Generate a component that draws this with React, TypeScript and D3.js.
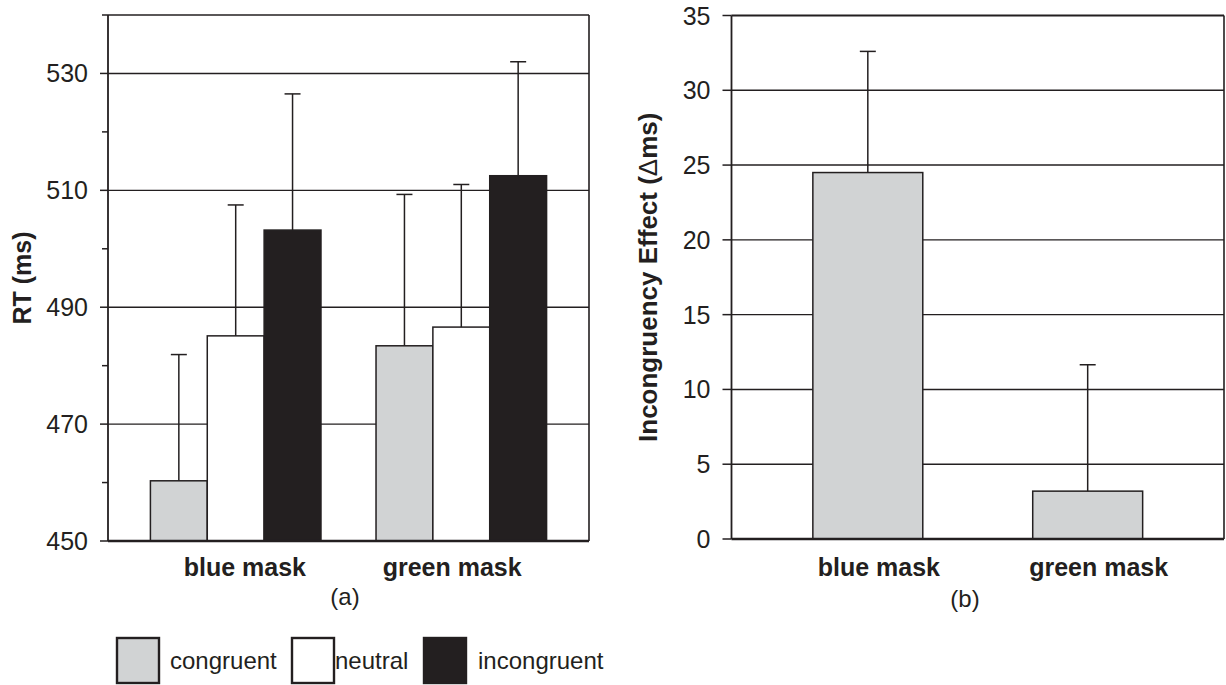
import React, { useEffect, useRef } from "react";
import * as d3 from "d3";

// ---- data ----
const groups = ["blue mask", "green mask"];
const conditions = ["congruent", "neutral", "incongruent"];
const congruentRT = [460.3, 483.4];
const neutralRT = [485.1, 486.6];
const incongruentRT = [503.2, 512.5];
const congruentErr = [21.6, 25.9];
const neutralErr = [22.4, 24.4];
const incongruentErr = [23.3, 19.5];
const rtTicks = [450, 470, 490, 510, 530];
const rtMinorTicks = [460, 480, 500, 520, 540];

const effect = [24.5, 3.2];
const effectErr = [8.1, 8.45];
const effectTicks = [0, 5, 10, 15, 20, 25, 30, 35];

const INK = "#231f20";
const GRAY = "#d1d3d4";
const FONT = "'Liberation Sans', Arial, Helvetica, sans-serif";

const App = () => {
  const svgRef = useRef<SVGSVGElement>(null);

  useEffect(() => {
    const svg = d3.select(svgRef.current);
    svg.selectAll("*").remove();

    const fill = d3.scaleOrdinal<string>().domain(conditions).range([GRAY, "#ffffff", INK]);

    // ================= panel (a) =================
    const a = { left: 108, right: 589, top: 15, bottom: 541 };
    const yA = d3.scaleLinear().domain([450, 540]).range([a.bottom, a.top]);
    const x0 = d3
      .scaleBand()
      .domain(groups)
      .range([a.left, a.right])
      .paddingInner(0.244)
      .paddingOuter(0.188);
    const x1 = d3.scaleBand().domain(conditions).range([0, x0.bandwidth()]);
    const labelA = d3.scalePoint().domain(groups).range([a.left, a.right]).padding(0.66);

    const gA = svg.append("g");

    // gridlines + top border
    gA.selectAll(".grid")
      .data([...rtTicks.slice(1), 540])
      .enter()
      .append("line")
      .attr("x1", a.left)
      .attr("x2", a.right)
      .attr("y1", (d) => yA(d))
      .attr("y2", (d) => yA(d))
      .attr("stroke", INK)
      .attr("stroke-width", 1.4);
    gA.append("line")
      .attr("x1", a.right)
      .attr("x2", a.right)
      .attr("y1", a.top)
      .attr("y2", a.bottom)
      .attr("stroke", INK)
      .attr("stroke-width", 1.6);

    const rows = groups.map((g, i) => ({
      group: g,
      bars: [
        { key: "congruent", value: congruentRT[i], err: congruentErr[i] },
        { key: "neutral", value: neutralRT[i], err: neutralErr[i] },
        { key: "incongruent", value: incongruentRT[i], err: incongruentErr[i] },
      ],
    }));

    const grp = gA
      .selectAll(".group")
      .data(rows)
      .enter()
      .append("g")
      .attr("transform", (d) => `translate(${x0(d.group)},0)`);

    grp.selectAll("rect")
      .data((d) => d.bars)
      .enter()
      .append("rect")
      .attr("x", (d) => x1(d.key)!)
      .attr("y", (d) => yA(d.value))
      .attr("width", x1.bandwidth())
      .attr("height", (d) => yA(450) - yA(d.value))
      .attr("fill", (d) => fill(d.key))
      .attr("stroke", INK)
      .attr("stroke-width", 1.5);

    const errA = grp
      .selectAll(".err")
      .data((d) => d.bars)
      .enter()
      .append("g");
    errA.append("line")
      .attr("x1", (d) => x1(d.key)! + x1.bandwidth() / 2)
      .attr("x2", (d) => x1(d.key)! + x1.bandwidth() / 2)
      .attr("y1", (d) => yA(d.value))
      .attr("y2", (d) => yA(d.value + d.err))
      .attr("stroke", INK)
      .attr("stroke-width", 1.5);
    errA.append("line")
      .attr("x1", (d) => x1(d.key)! + x1.bandwidth() / 2 - 8)
      .attr("x2", (d) => x1(d.key)! + x1.bandwidth() / 2 + 8)
      .attr("y1", (d) => yA(d.value + d.err))
      .attr("y2", (d) => yA(d.value + d.err))
      .attr("stroke", INK)
      .attr("stroke-width", 1.5);

    // y axis
    const axA = gA.append("g").attr("transform", `translate(${a.left},0)`);
    axA.append("line")
      .attr("y1", a.top)
      .attr("y2", a.bottom)
      .attr("stroke", INK)
      .attr("stroke-width", 1.8);
    axA.selectAll(".major")
      .data(rtTicks)
      .enter()
      .append("line")
      .attr("x1", -8)
      .attr("x2", 0)
      .attr("y1", (d) => yA(d))
      .attr("y2", (d) => yA(d))
      .attr("stroke", INK)
      .attr("stroke-width", 1.5);
    axA.selectAll(".minor")
      .data(rtMinorTicks)
      .enter()
      .append("line")
      .attr("x1", -6)
      .attr("x2", 0)
      .attr("y1", (d) => yA(d))
      .attr("y2", (d) => yA(d))
      .attr("stroke", INK)
      .attr("stroke-width", 1.5);
    axA.selectAll("text")
      .data(rtTicks)
      .enter()
      .append("text")
      .attr("x", -20)
      .attr("y", (d) => yA(d))
      .attr("dy", "0.36em")
      .attr("text-anchor", "end")
      .attr("font-size", 25)
      .attr("fill", INK)
      .text((d) => d);
    // x axis line
    gA.append("line")
      .attr("x1", a.left)
      .attr("x2", a.right)
      .attr("y1", a.bottom)
      .attr("y2", a.bottom)
      .attr("stroke", INK)
      .attr("stroke-width", 2.4);

    gA.selectAll(".cat")
      .data(groups)
      .enter()
      .append("text")
      .attr("x", (d) => labelA(d)!)
      .attr("y", 576)
      .attr("text-anchor", "middle")
      .attr("font-size", 25)
      .attr("font-weight", "bold")
      .attr("fill", INK)
      .text((d) => d);

    gA.append("text")
      .attr("transform", `translate(31,${(a.top + a.bottom) / 2}) rotate(-90)`)
      .attr("text-anchor", "middle")
      .attr("font-size", 25)
      .attr("font-weight", "bold")
      .attr("fill", INK)
      .text("RT (ms)");

    gA.append("text")
      .attr("x", 345)
      .attr("y", 605)
      .attr("text-anchor", "middle")
      .attr("font-size", 24)
      .attr("fill", INK)
      .text("(a)");

    // ================= panel (b) =================
    const b = { left: 731.5, right: 1224, top: 15.5, bottom: 539 };
    const yB = d3.scaleLinear().domain([0, 35]).range([b.bottom, b.top]);
    const xB = d3
      .scaleBand()
      .domain(groups)
      .range([b.left, b.right])
      .paddingInner(0.5)
      .paddingOuter(0.37);

    const gB = svg.append("g");
    gB.selectAll(".grid")
      .data(effectTicks.slice(1, -1))
      .enter()
      .append("line")
      .attr("x1", b.left)
      .attr("x2", b.right)
      .attr("y1", (d) => yB(d))
      .attr("y2", (d) => yB(d))
      .attr("stroke", INK)
      .attr("stroke-width", 1.4);
    gB.append("line")
      .attr("x1", b.left)
      .attr("x2", b.right)
      .attr("y1", yB(35))
      .attr("y2", yB(35))
      .attr("stroke", INK)
      .attr("stroke-width", 2.2);
    gB.append("line")
      .attr("x1", b.right)
      .attr("x2", b.right)
      .attr("y1", b.top)
      .attr("y2", b.bottom)
      .attr("stroke", INK)
      .attr("stroke-width", 1.6);

    const effRows = groups.map((g, i) => ({ group: g, value: effect[i], err: effectErr[i] }));

    gB.selectAll("rect")
      .data(effRows)
      .enter()
      .append("rect")
      .attr("x", (d) => xB(d.group)!)
      .attr("y", (d) => yB(d.value))
      .attr("width", xB.bandwidth())
      .attr("height", (d) => yB(0) - yB(d.value))
      .attr("fill", GRAY)
      .attr("stroke", INK)
      .attr("stroke-width", 1.5);

    const errB = gB.selectAll(".err").data(effRows).enter().append("g");
    errB.append("line")
      .attr("x1", (d) => xB(d.group)! + xB.bandwidth() / 2)
      .attr("x2", (d) => xB(d.group)! + xB.bandwidth() / 2)
      .attr("y1", (d) => yB(d.value))
      .attr("y2", (d) => yB(d.value + d.err))
      .attr("stroke", INK)
      .attr("stroke-width", 1.5);
    errB.append("line")
      .attr("x1", (d) => xB(d.group)! + xB.bandwidth() / 2 - 8)
      .attr("x2", (d) => xB(d.group)! + xB.bandwidth() / 2 + 8)
      .attr("y1", (d) => yB(d.value + d.err))
      .attr("y2", (d) => yB(d.value + d.err))
      .attr("stroke", INK)
      .attr("stroke-width", 1.5);

    const axB = gB.append("g").attr("transform", `translate(${b.left},0)`);
    axB.append("line")
      .attr("y1", b.top)
      .attr("y2", b.bottom)
      .attr("stroke", INK)
      .attr("stroke-width", 1.8);
    axB.selectAll(".tick")
      .data(effectTicks)
      .enter()
      .append("line")
      .attr("x1", -9)
      .attr("x2", 0)
      .attr("y1", (d) => yB(d))
      .attr("y2", (d) => yB(d))
      .attr("stroke", INK)
      .attr("stroke-width", 1.5);
    axB.selectAll("text")
      .data(effectTicks)
      .enter()
      .append("text")
      .attr("x", -21)
      .attr("y", (d) => yB(d))
      .attr("dy", "0.36em")
      .attr("text-anchor", "end")
      .attr("font-size", 25)
      .attr("fill", INK)
      .text((d) => d);
    gB.append("line")
      .attr("x1", b.left)
      .attr("x2", b.right)
      .attr("y1", b.bottom)
      .attr("y2", b.bottom)
      .attr("stroke", INK)
      .attr("stroke-width", 2.4);

    gB.selectAll(".cat")
      .data(groups)
      .enter()
      .append("text")
      .attr("x", (d) => xB(d)! + xB.bandwidth() / 2 + 11)
      .attr("y", 576)
      .attr("text-anchor", "middle")
      .attr("font-size", 25)
      .attr("font-weight", "bold")
      .attr("fill", INK)
      .text((d) => d);

    const titleB = gB
      .append("text")
      .attr("transform", `translate(657,${(b.top + b.bottom) / 2}) rotate(-90)`)
      .attr("text-anchor", "middle")
      .attr("font-size", 26)
      .attr("font-weight", "bold")
      .attr("fill", INK);
    titleB.append("tspan").text("Incongruency Effect (");
    titleB.append("tspan").attr("font-weight", "normal").text("\u0394");
    titleB.append("tspan").text("ms)");

    gB.append("text")
      .attr("x", 965)
      .attr("y", 607)
      .attr("text-anchor", "middle")
      .attr("font-size", 24)
      .attr("fill", INK)
      .text("(b)");

    // ================= legend =================
    const legendBoxX = [117, 292, 424];
    const legendTextX = [170, 335, 478];
    const legend = svg
      .append("g")
      .selectAll(".legend")
      .data(conditions)
      .enter()
      .append("g");
    legend
      .append("rect")
      .attr("x", (d, i) => legendBoxX[i])
      .attr("y", 638)
      .attr("width", 42)
      .attr("height", 45)
      .attr("fill", (d) => fill(d))
      .attr("stroke", INK)
      .attr("stroke-width", 2.4);
    legend
      .append("text")
      .attr("x", (d, i) => legendTextX[i])
      .attr("y", 669)
      .attr("font-size", 24)
      .attr("fill", INK)
      .text((d) => d);
  }, []);

  return (
    <svg
      ref={svgRef}
      width={1226}
      height={685}
      style={{ position: "absolute", left: 0, top: 0, display: "block", background: "#fff", fontFamily: FONT }}
    />
  );
};

export default App;
